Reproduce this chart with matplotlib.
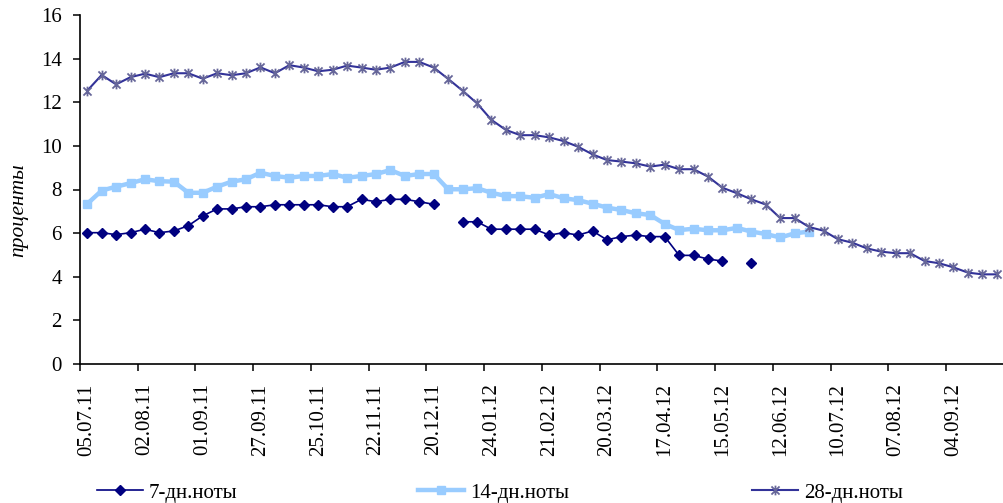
import numpy as np
import matplotlib
matplotlib.use("Agg")
import matplotlib.pyplot as plt
from matplotlib.path import Path

plt.rcParams['font.family'] = ['Liberation Serif', 'DejaVu Serif']

# подписи по оси X (каждая 4-я неделя)
tick_labels = ["05.07.11", "02.08.11", "01.09.11", "27.09.11", "25.10.11", "22.11.11",
               "20.12.11", "24.01.12", "21.02.12", "20.03.12", "17.04.12", "15.05.12",
               "12.06.12", "10.07.12", "07.08.12", "04.09.12"]
n_weeks = 64

nan = np.nan
notes_7 = [6.02, 6.02, 5.93, 6.02, 6.18, 6.02, 6.10, 6.34, 6.79, 7.11,
           7.11, 7.21, 7.21, 7.30, 7.30, 7.30, 7.30, 7.21, 7.21, 7.55,
           7.44, 7.55, 7.55, 7.44, 7.32, nan, 6.52, 6.52, 6.18, 6.18,
           6.18, 6.18, 5.91, 6.02, 5.91, 6.10, 5.69, 5.84, 5.91, 5.84,
           5.84, 4.98, 4.98, 4.81, 4.72, nan, 4.64]
notes_14 = [7.34, 7.95, 8.13, 8.29, 8.47, 8.38, 8.36, 7.85, 7.85, 8.13,
            8.36, 8.47, 8.77, 8.62, 8.54, 8.62, 8.62, 8.71, 8.54, 8.62,
            8.71, 8.89, 8.62, 8.71, 8.71, 8.01, 8.01, 8.06, 7.85, 7.70,
            7.69, 7.62, 7.79, 7.60, 7.51, 7.35, 7.17, 7.06, 6.91, 6.83,
            6.42, 6.14, 6.20, 6.13, 6.13, 6.24, 6.07, 5.96, 5.80, 5.99,
            6.07]
notes_28 = [12.53, 13.25, 12.82, 13.15, 13.31, 13.15, 13.33, 13.33, 13.08, 13.33,
            13.24, 13.33, 13.60, 13.33, 13.70, 13.59, 13.42, 13.49, 13.68, 13.59,
            13.49, 13.59, 13.85, 13.85, 13.59, 13.07, 12.53, 11.95, 11.19, 10.73,
            10.49, 10.49, 10.39, 10.22, 9.96, 9.61, 9.35, 9.28, 9.20, 9.05,
            9.14, 8.93, 8.93, 8.59, 8.08, 7.83, 7.55, 7.31, 6.69, 6.69,
            6.28, 6.11, 5.72, 5.56, 5.30, 5.15, 5.08, 5.08, 4.72, 4.62,
            4.43, 4.19, 4.11, 4.11]

# маркер-звёздочка как в Excel: X и вертикальная черта
star = Path([(-1, -1), (1, 1), (-1, 1), (1, -1), (0, -1.2), (0, 1.2)],
            [Path.MOVETO, Path.LINETO, Path.MOVETO, Path.LINETO, Path.MOVETO, Path.LINETO])

fig = plt.figure(figsize=(10.04, 5.03), dpi=100)
ax = fig.add_axes([80 / 1004, 1 - 364 / 503, 924 / 1004, 349 / 503])

l7, = ax.plot(np.arange(len(notes_7)), notes_7, color="#000080", lw=1.2,
              marker="D", ms=5.5, mfc="#000080", mec="#000080")
l14, = ax.plot(np.arange(len(notes_14)), notes_14, color="#99CCFF", lw=3.2,
               marker="s", ms=5.5, mfc="#99CCFF", mec="#99CCFF")
l28, = ax.plot(np.arange(len(notes_28)), notes_28, color="#333399", lw=1.5,
               marker=star, ms=7, mfc="none", mec="#666699", mew=1.3)

ax.set_xlim(-0.5, n_weeks - 0.5)
ax.set_ylim(0, 16)
ax.set_yticks(np.arange(0, 17, 2))
ax.tick_params(axis="y", direction="out", length=5, width=1.1, labelsize=15, pad=8)

ax.set_xticks(np.arange(0, 4 * len(tick_labels), 4))
ax.set_xticklabels(tick_labels, rotation=90, fontsize=15)
ax.tick_params(axis="x", which="major", length=0, pad=14)
ax.set_xticks(np.arange(-0.5, n_weeks, 4), minor=True)
ax.tick_params(axis="x", which="minor", direction="out", length=5, width=1.1)

for s in ["top", "right"]:
    ax.spines[s].set_visible(False)
for s in ["left", "bottom"]:
    ax.spines[s].set_linewidth(1.2)

ax.set_ylabel("проценты", fontsize=15.5, style="italic")
ax.yaxis.set_label_coords(-0.056, 0.44)

# легенда — три отдельных элемента внизу
for handle, text, x in [(l7, "7-дн.ноты", 97), (l14, "14-дн.ноты", 418), (l28, "28-дн.ноты", 752)]:
    fig.legend([handle], [text], loc="center left", bbox_to_anchor=(x / 1004, 1 - 493 / 503),
               frameon=False, fontsize=15, handlelength=2.2, handletextpad=0.3,
               borderpad=0, borderaxespad=0)

fig.savefig("out.png", dpi=100)
